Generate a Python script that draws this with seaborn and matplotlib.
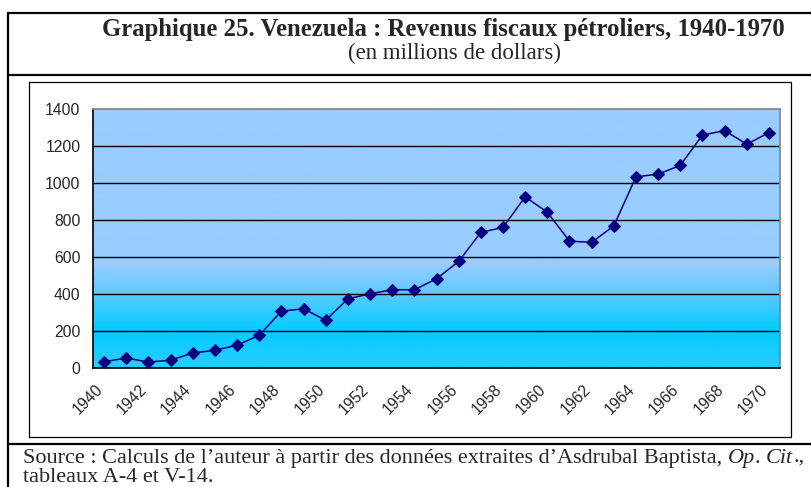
import numpy as np
import pandas as pd
import seaborn as sns
import matplotlib.pyplot as plt
from matplotlib.lines import Line2D
from matplotlib.patches import Rectangle
from matplotlib.transforms import ScaledTranslation

years = list(range(1940, 1971))
revenus = [34, 54, 32, 42, 81, 96, 123, 177, 307, 320, 258, 374, 401, 423, 423,
           482, 576, 733, 760, 925, 842, 686, 679, 768, 1033, 1048, 1095, 1259,
           1283, 1210, 1272]
yticks = [0, 200, 400, 600, 800, 1000, 1200, 1400]
xlabels = [str(y) for y in range(1940, 1971, 2)]

df = pd.DataFrame({"annee": years, "revenus": revenus})

sns.set_style("white")
plt.rcParams["font.family"] = ["Liberation Sans", "DejaVu Sans"]

W, H = 812, 487
fig = plt.figure(figsize=(W / 100, H / 100), dpi=100)


def fx(px):
    return px / W


def fy(py):
    return 1 - py / H


# frames
fig.add_artist(Line2D([fx(8), fx(8)], [fy(13), 0], color="black", lw=1.6))
fig.add_artist(Line2D([fx(8), 1], [fy(13), fy(13)], color="black", lw=1.6))
fig.add_artist(Line2D([fx(8), 1], [fy(75), fy(75)], color="black", lw=1.6))
fig.add_artist(Line2D([fx(8), 1], [fy(444), fy(444)], color="black", lw=1.6))
fig.add_artist(Rectangle((fx(29), fy(437)), fx(791 - 29), (437 - 82) / H,
                         fill=False, edgecolor="black", lw=0.9))

# titles
fig.text(fx(443), fy(36), "Graphique 25. Venezuela : Revenus fiscaux pétroliers, 1940-1970",
         ha="center", va="baseline", fontsize=17.8, fontweight="bold",
         family="Liberation Serif")
fig.text(fx(455), fy(59), "(en millions de dollars)", ha="center", va="baseline",
         fontsize=16.5, family="Liberation Serif")

ax = fig.add_axes([fx(93), fy(368), fx(780 - 93), (368 - 109) / H])

# gradient background
stops = [0.0, 0.143, 0.30, 0.40, 1.0]
cols = np.array([[0.17, 0.80, 1.0], [0.0, 0.80, 1.0], [0.40, 0.79, 1.0],
                 [0.60, 0.80, 1.0], [0.60, 0.80, 1.0]])
t = np.linspace(0, 1, 300)
grad = np.stack([np.interp(t, stops, cols[:, i]) for i in range(3)], axis=1)
ax.imshow(grad[::-1, None, :], extent=[0, 1, 0, 1], transform=ax.transAxes,
          aspect="auto", zorder=0)

for v in yticks[1:-1]:
    ax.axhline(v, color="black", lw=1.0, zorder=1)

sns.lineplot(data=df, x="annee", y="revenus", ax=ax, color="#000080",
             marker="D", markersize=6, markeredgecolor="#000080", lw=1.1, zorder=3)

ax.set_xlim(1939.5, 1970.5)
ax.set_ylim(0, 1400)
ax.set_yticks(yticks)
ax.set_xticks(range(1940, 1971, 2))
ax.set_xticklabels(xlabels, rotation=45, ha="right", rotation_mode="anchor")
ax.set_xticks(np.arange(1939.5, 1971, 1), minor=True)
ax.tick_params(axis="x", which="major", length=0, pad=10, labelsize=11.3)
ax.tick_params(axis="x", which="minor", length=4, width=1, color="black", direction="out")
ax.tick_params(axis="y", length=4, width=1, color="black", direction="out",
               pad=5, labelsize=11.3)
shift = ScaledTranslation(-0.09, 0, fig.dpi_scale_trans)
for lab in ax.get_xticklabels():
    lab.set_transform(lab.get_transform() + shift)
ax.set_xlabel("")
ax.set_ylabel("")
for s in ["left", "bottom"]:
    ax.spines[s].set_color("black")
    ax.spines[s].set_linewidth(1.2)
for s in ["top", "right"]:
    ax.spines[s].set_color("#808080")
    ax.spines[s].set_linewidth(1.2)

# source with italics
renderer = fig.canvas.get_renderer()
pieces = [("Source : Calculs de l’auteur à partir des données extraites d’Asdrubal Baptista, ", "normal"),
          ("Op", "italic"), (". ", "normal"), ("Cit", "italic"), (".,", "normal")]
x = fx(23)
for txt, st in pieces:
    tt = fig.text(x, fy(463), txt, ha="left", va="baseline", fontsize=16,
                  style=st, family="Liberation Serif")
    x += tt.get_window_extent(renderer).width / fig.bbox.width
fig.text(fx(23), fy(482), "tableaux A-4 et V-14.", ha="left", va="baseline",
         fontsize=16, family="Liberation Serif")

fig.savefig("out.png", dpi=100)
